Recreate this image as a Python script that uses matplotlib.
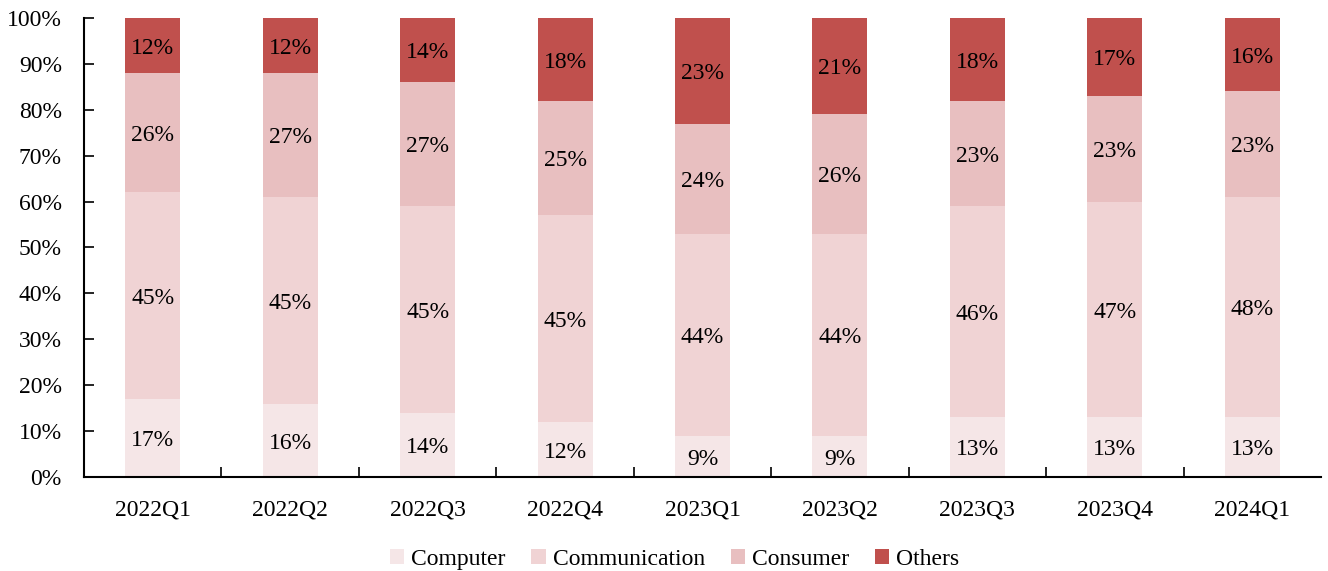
import numpy as np
import matplotlib.pyplot as plt
from matplotlib.ticker import FixedLocator, PercentFormatter

plt.rcParams['font.family'] = ['Liberation Serif', 'DejaVu Serif']

quarters = ['2022Q1', '2022Q2', '2022Q3', '2022Q4', '2023Q1', '2023Q2',
            '2023Q3', '2023Q4', '2024Q1']
computer = [17, 16, 14, 12, 9, 9, 13, 13, 13]
communication = [45, 45, 45, 45, 44, 44, 46, 47, 48]
consumer = [26, 27, 27, 25, 24, 26, 23, 23, 23]
others = [12, 12, 14, 18, 23, 21, 18, 17, 16]

series = [('Computer', computer, '#F5E6E7'),
          ('Communication', communication, '#F0D3D4'),
          ('Consumer', consumer, '#E8BFC0'),
          ('Others', others, '#C0504D')]

fs = 17

fig = plt.figure(figsize=(13.28, 5.71), dpi=100)
ax = fig.add_axes([0.0633, 0.1646, 0.9314, 0.8039])

x = np.arange(len(quarters))
bottom = np.zeros(len(quarters))
for name, vals, color in series:
    ax.bar(x, vals, width=0.4, bottom=bottom, color=color, label=name)
    # percentage label in the middle of each segment
    for xi, b, v in zip(x, bottom, vals):
        ax.annotate(f'{v}%', (xi, b + v / 2), xytext=(0, -2),
                    textcoords='offset points', ha='center', va='center',
                    fontsize=fs)
    bottom += np.array(vals)

ax.set_xlim(-0.5, len(quarters) - 0.5)
ax.set_ylim(0, 100)
ax.yaxis.set_major_locator(FixedLocator(np.arange(0, 101, 10)))
ax.yaxis.set_major_formatter(PercentFormatter(decimals=0))
ax.set_xticks(x)
ax.set_xticklabels(quarters)
ax.xaxis.set_minor_locator(FixedLocator(x[:-1] + 0.5))
ax.tick_params(axis='x', which='major', length=0, pad=16, labelsize=fs)
ax.tick_params(axis='x', which='minor', direction='in', length=7, width=1.2)
ax.tick_params(axis='y', direction='in', length=7, width=1.2, pad=16,
               labelsize=fs)

for side in ['top', 'right']:
    ax.spines[side].set_visible(False)
for side in ['left', 'bottom']:
    ax.spines[side].set_linewidth(1.5)

fig.legend(loc='center', bbox_to_anchor=(0.508, 0.02), ncol=4,
           frameon=False, fontsize=fs, handlelength=0.6, handleheight=0.6,
           handletextpad=0.3, columnspacing=1.1)

fig.savefig('out.png', dpi=100)
